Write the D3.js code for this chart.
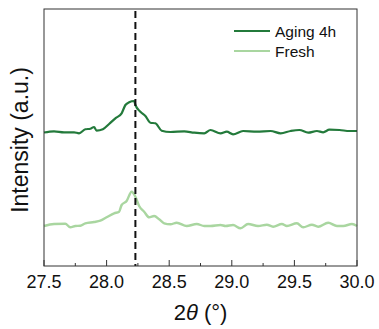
<!DOCTYPE html>
<html><head><meta charset="utf-8">
<script src="https://cdn.jsdelivr.net/npm/d3@7"></script>
<style>body{margin:0;background:#fff}svg{display:block}text{font-family:"Liberation Sans",Arial,sans-serif;fill:#111}</style>
</head><body><svg id="c" width="379" height="329"></svg>
<script>
const agingX = [27.50,27.58,27.66,27.74,27.78,27.83,27.87,27.90,27.92,27.97,28.02,28.07,28.12,28.15,28.18,28.22,28.23,28.27,28.31,28.35,28.39,28.44,28.51,28.62,28.70,28.78,28.83,28.91,28.96,29.01,29.09,29.20,29.31,29.39,29.47,29.54,29.61,29.68,29.73,29.78,29.86,29.94,30.00];
const agingY = [133.5,134.7,133.7,133.7,132.7,136.7,137.3,139,135.3,136.7,142,147.7,152.7,161,163.7,165,161,154.3,150,143.3,142.7,135.3,134,134.7,133.3,132.7,136,132.7,134.3,131.7,135,134.3,135,132.7,135,136,133.3,135,133.7,136.3,136,135,135];
const freshX = [27.50,27.58,27.67,27.71,27.75,27.79,27.83,27.90,27.95,28.00,28.06,28.10,28.12,28.16,28.20,28.23,28.26,28.30,28.34,28.38,28.42,28.46,28.51,28.56,28.64,28.72,28.78,28.83,28.91,28.95,29.01,29.07,29.13,29.21,29.28,29.33,29.40,29.44,29.52,29.57,29.64,29.69,29.77,29.84,29.89,29.96,30.00];
const freshY = [40,42,42.3,38.7,40,40.3,42.7,44,45.3,48.7,52.7,54.3,61,65,74.3,69.3,60,54.3,48.7,50,46.7,42.7,41.7,43.3,40,42,40,40,41,40,41,37.7,42,40,41.3,39.3,42,40,42.7,38.7,41.3,39.3,43.3,40,40,42,40];
const seriesNames = ["Aging 4h","Fresh"];
const xTicks = [27.5,28.0,28.5,29.0,29.5,30.0];
const peakPos = 28.23;

const svg = d3.select("#c");
const L=44,R=357,T=9,B=266;
const x = d3.scaleLinear().domain([27.5,30]).range([L,R]);
const y = d3.scaleLinear().domain([0,257]).range([B,T]);
const colors = ["#237a3b","#a9d6a0"];

const minor = d3.range(27.5,30.001,0.25);
svg.append("g").selectAll("line").data(minor).join("line")
  .attr("x1",d=>x(d)).attr("x2",d=>x(d))
  .attr("y1",B).attr("y2",d=>Math.abs((d*2)%1)<1e-6?B-6:B-3)
  .attr("stroke","#333").attr("stroke-width",1);

const line = d3.line().x(d=>x(d[0])).y(d=>y(d[1])).curve(d3.curveMonotoneX);
const fresh = freshX.map((v,i)=>[v,freshY[i]]);
const aging = agingX.map((v,i)=>[v,agingY[i]]);
svg.append("path").datum(fresh).attr("d",line).attr("fill","none").attr("stroke",colors[1]).attr("stroke-width",2.4).attr("stroke-linejoin","round");
svg.append("path").datum(aging).attr("d",line).attr("fill","none").attr("stroke",colors[0]).attr("stroke-width",2.2).attr("stroke-linejoin","round");

svg.append("line").attr("x1",x(peakPos)).attr("x2",x(peakPos)).attr("y1",T+2).attr("y2",B)
  .attr("stroke","#111").attr("stroke-width",2).attr("stroke-dasharray","7,4");

svg.append("rect").attr("x",L).attr("y",T).attr("width",R-L).attr("height",B-T)
  .attr("fill","none").attr("stroke","#333").attr("stroke-width",1);

svg.append("g").selectAll("text").data(xTicks).join("text")
  .attr("x",d=>x(d)).attr("y",288).attr("text-anchor","middle").attr("font-size",18)
  .text(d=>d.toFixed(1));

const xt = svg.append("text").attr("x",(L+R)/2).attr("y",320).attr("text-anchor","middle").attr("font-size",22);
xt.append("tspan").text("2");
xt.append("tspan").attr("font-style","italic").text("θ");
xt.append("tspan").text(" (°)");

svg.append("text").attr("transform",`translate(28,140) rotate(-90)`).attr("text-anchor","middle").attr("font-size",23).text("Intensity (a.u.)");

const lg = svg.append("g");
seriesNames.forEach((n,i)=>{
  const yy = 31+i*20;
  lg.append("line").attr("x1",234).attr("x2",270).attr("y1",yy).attr("y2",yy).attr("stroke",colors[i]).attr("stroke-width",2.2);
  lg.append("text").attr("x",275).attr("y",yy+5.5).attr("font-size",15.5).text(n);
});
</script></body></html>
